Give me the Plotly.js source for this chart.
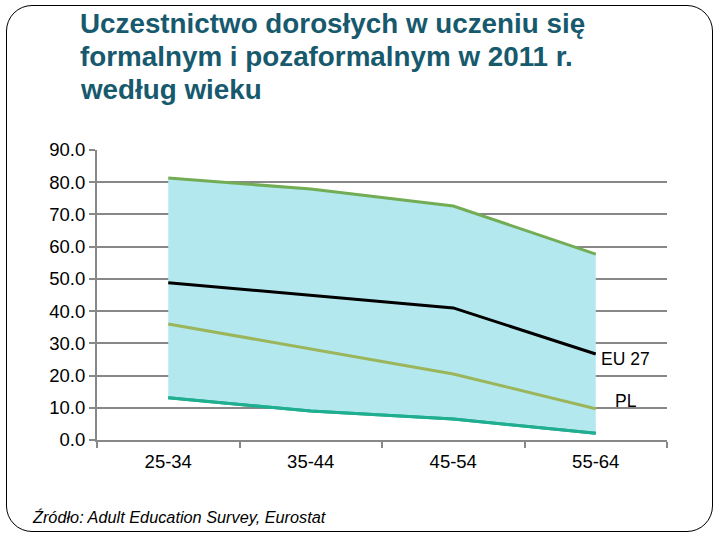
<!DOCTYPE html>
<html>
<head>
<meta charset="utf-8">
<script src="https://cdn.plot.ly/plotly-3.0.1.min.js"></script>
<style>
html,body{margin:0;padding:0;background:#fff;}
#frame{position:absolute;left:6px;top:5px;width:707px;height:527px;border:1.3px solid #000;border-radius:26px;box-sizing:border-box;}
#chart{position:absolute;left:0;top:0;width:720px;height:540px;}
</style>
</head>
<body>
<div id="frame"></div>
<div id="chart"></div>
<script>
var categories = ['25-34', '35-44', '45-54', '55-64'];
var maxValues = [81.3, 77.9, 72.6, 57.7];
var minValues = [13.1, 9.0, 6.5, 2.1];
var eu27Values = [48.8, 45.0, 41.0, 26.7];
var plValues = [36.0, 28.2, 20.5, 9.7];
var yTicks = [0, 10, 20, 30, 40, 50, 60, 70, 80, 90];
var titleLines = ['Uczestnictwo dorosłych w uczeniu się', 'formalnym i pozaformalnym w 2011 r.', 'według wieku'];

var traces = [
  {x: categories, y: minValues, type: 'scatter', mode: 'lines',
   line: {color: '#1fae90', width: 3}, hoverinfo: 'y'},
  {x: categories, y: maxValues, type: 'scatter', mode: 'lines', fill: 'tonexty',
   fillcolor: '#b3e8ef', line: {color: '#72ad55', width: 3}, hoverinfo: 'y'},
  {x: categories, y: plValues, type: 'scatter', mode: 'lines',
   line: {color: '#9bb55a', width: 3}, hoverinfo: 'y'},
  {x: categories, y: eu27Values, type: 'scatter', mode: 'lines',
   line: {color: '#000000', width: 3}, hoverinfo: 'y'},
  {x: categories, y: minValues, type: 'scatter', mode: 'lines',
   line: {color: '#1fae90', width: 3}, hoverinfo: 'skip'}
];

// plot area: x 97..667, y 150..440
var L = 97, R = 667, T = 150, B = 440;
function px2x(p) { return (p - L) / (R - L); }
function py2y(p) { return (B - p) / (B - T); }

var annotations = titleLines.map(function (t, i) {
  return {xref: 'paper', yref: 'paper', x: px2x(78), y: py2y(35 + 33 * i),
    text: '<b>' + t + '</b>', showarrow: false, xanchor: 'left', yanchor: 'bottom',
    yshift: -6,
    font: {family: 'Liberation Sans, Arial, sans-serif', size: 27.8, color: '#17596d'}};
});
annotations.push(
  {x: 3, y: eu27Values[3], xref: 'x', yref: 'y', text: 'EU 27', showarrow: false,
   xanchor: 'left', yanchor: 'middle', xshift: 3, yshift: -5, font: {size: 17.5, color: '#000'}},
  {x: 3, y: plValues[3], xref: 'x', yref: 'y', text: 'PL', showarrow: false,
   xanchor: 'left', yanchor: 'middle', xshift: 17, yshift: 8, font: {size: 17.5, color: '#000'}},
  {xref: 'paper', yref: 'paper', x: px2x(30), y: py2y(517),
   text: '<i>Źródło: Adult Education Survey, Eurostat</i>', showarrow: false,
   xanchor: 'left', yanchor: 'middle', font: {size: 16.3, color: '#000'}}
);

var layout = {
  width: 720, height: 540,
  margin: {l: L, r: 720 - R, t: T, b: 540 - B},
  paper_bgcolor: 'rgba(0,0,0,0)',
  plot_bgcolor: 'rgba(0,0,0,0)',
  showlegend: false,
  font: {family: 'Liberation Sans, Arial, sans-serif', color: '#000'},
  xaxis: {
    type: 'category', range: [-0.5, 3.5],
    tickson: 'boundaries', ticks: 'outside', ticklen: 6, tickcolor: '#888', tickwidth: 2,
    showline: true, linecolor: '#888', linewidth: 2,
    showgrid: false, zeroline: false, ticklabelstandoff: 4,
    tickfont: {size: 18.5, color: '#000'}, fixedrange: true
  },
  yaxis: {
    range: [0, 90], tickvals: yTicks, tickformat: '.1f',
    ticks: 'outside', ticklen: 6, tickcolor: '#888', tickwidth: 2,
    showline: true, linecolor: '#888', linewidth: 2,
    showgrid: true, gridcolor: '#888', gridwidth: 2,
    zeroline: false,
    tickfont: {size: 18.5, color: '#000'}, fixedrange: true
  },
  annotations: annotations
};

Plotly.newPlot('chart', traces, layout, {displayModeBar: false, staticPlot: true});
</script>
</body>
</html>
